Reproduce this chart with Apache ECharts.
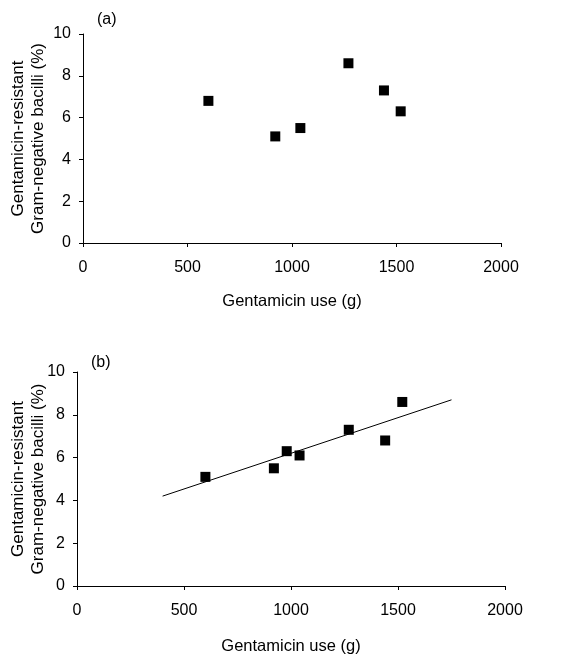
<!DOCTYPE html>
<html>
<head>
  <meta charset="utf-8">
  <title>Gentamicin use vs resistance</title>
  <script src="https://cdn.jsdelivr.net/npm/echarts/dist/echarts.min.js"></script>
  <style>
    html, body { margin: 0; padding: 0; background: #fff; }
    #chart { width: 582px; height: 654px; }
  </style>
</head>
<body>
  <div id="chart"></div>
  <script>
    // panel (a)
    var aUse = [600, 920, 1040, 1270, 1440, 1520];
    var aRes = [6.8, 5.1, 5.5, 8.6, 7.3, 6.3];
    // panel (b)
    var bUse = [600, 920, 980, 1040, 1270, 1440, 1520];
    var bRes = [5.1, 5.5, 6.3, 6.1, 7.3, 6.8, 8.6];
    // trend line of panel (b), end points
    var trendUse = [400, 1750];
    var trendRes = [4.2, 8.7];

    var panelLabels = ['(a)', '(b)'];
    var xName = 'Gentamicin use (g)';
    var yName = 'Gentamicin-resistant\nGram-negative bacilli (%)';

    var font = 'Liberation Sans, Arial, sans-serif';
    var myChart = echarts.init(document.getElementById('chart'));

    function pairs(xs, ys) {
      return xs.map(function (x, i) { return [x, ys[i]]; });
    }

    function xAxisOf(gridIndex, gap) {
      return {
        gridIndex: gridIndex,
        type: 'value',
        min: 0, max: 2000, interval: 500,
        name: xName,
        nameLocation: 'middle',
        nameGap: gap,
        nameMoveOverlap: false,
        nameTextStyle: { color: '#000', fontSize: 16.5, fontFamily: font },
        axisLine: { show: true, lineStyle: { color: '#000', width: 1 } },
        axisTick: { show: true, length: 4, lineStyle: { color: '#000' } },
        axisLabel: { color: '#000', fontSize: 16, fontFamily: font, margin: 17,
          formatter: function (v) { return String(v); } },
        splitLine: { show: false }
      };
    }

    function yAxisOf(gridIndex, gap) {
      return {
        gridIndex: gridIndex,
        type: 'value',
        min: 0, max: 10, interval: 2,
        name: yName,
        nameLocation: 'middle',
        nameGap: gap,
        nameMoveOverlap: false,
        nameTextStyle: { color: '#000', fontSize: 17, fontFamily: font, lineHeight: 20 },
        axisLine: { show: true, lineStyle: { color: '#000', width: 1 } },
        axisTick: { show: true, length: 4, lineStyle: { color: '#000' } },
        axisLabel: { color: '#000', fontSize: 16, fontFamily: font, margin: 12 },
        splitLine: { show: false }
      };
    }

    var option = {
      animation: false,
      backgroundColor: '#fff',
      title: [
        { text: panelLabels[0], left: 97, top: 12, padding: 0,
          textStyle: { color: '#000', fontSize: 16, fontWeight: 'normal', fontFamily: font } },
        { text: panelLabels[1], left: 91, top: 355, padding: 0,
          textStyle: { color: '#000', fontSize: 16, fontWeight: 'normal', fontFamily: font } }
      ],
      grid: [
        { left: 83, top: 34, width: 418, height: 209, outerBoundsMode: 'none' },
        { left: 77, top: 372, width: 428, height: 214, outerBoundsMode: 'none' }
      ],
      xAxis: [xAxisOf(0, 50), xAxisOf(1, 52)],
      yAxis: [yAxisOf(0, 35), yAxisOf(1, 29)],
      series: [
        {
          type: 'scatter', xAxisIndex: 0, yAxisIndex: 0,
          symbol: 'rect', symbolSize: 10,
          itemStyle: { color: '#000', opacity: 1 },
          data: pairs(aUse, aRes)
        },
        {
          type: 'line', xAxisIndex: 1, yAxisIndex: 1,
          symbol: 'none',
          lineStyle: { color: '#000', width: 1 },
          data: pairs(trendUse, trendRes)
        },
        {
          type: 'scatter', xAxisIndex: 1, yAxisIndex: 1,
          symbol: 'rect', symbolSize: 10,
          itemStyle: { color: '#000', opacity: 1 },
          data: pairs(bUse, bRes)
        }
      ]
    };

    myChart.setOption(option);
  </script>
</body>
</html>
